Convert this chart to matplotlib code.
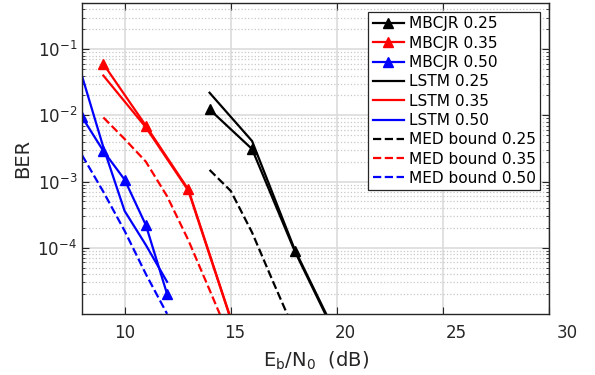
import matplotlib
matplotlib.use('Agg')
import matplotlib.pyplot as plt
import matplotlib.transforms as mtransforms
from matplotlib.ticker import LogLocator, NullFormatter

# Eb/N0 grids (dB)
snr_025 = [14, 16, 18, 20]
snr_035 = [9, 11, 13, 15]
snr_050 = [8, 9, 10, 11, 12]

# BER of the MBCJR detector
mbcjr_025 = [1.23e-2, 3.1e-3, 9.0e-5, 4.3e-6]
mbcjr_035 = [6.0e-2, 7.0e-3, 7.6e-4, 8.5e-6]
mbcjr_050 = [9.4e-3, 2.9e-3, 1.07e-3, 2.2e-4, 2.0e-5]

# BER of the LSTM detector
lstm_025 = [2.2e-2, 4.1e-3, 9.5e-5, 4.6e-6]
lstm_035 = [4.0e-2, 6.6e-3, 7.3e-4, 8.2e-6]
lstm_050 = [3.9e-2, 3.3e-3, 3.6e-4, 1.1e-4, 3.05e-5]

# MED bounds
med_snr_025 = [14, 15, 16, 17, 18]
med_025 = [1.5e-3, 7.2e-4, 1.7e-4, 3.0e-5, 5.5e-6]
med_snr_035 = [9, 10, 11, 12, 13, 14, 15]
med_035 = [9.3e-3, 4.4e-3, 2.0e-3, 6.0e-4, 1.3e-4, 2.3e-5, 4.0e-6]
med_snr_050 = [8, 9, 10, 11, 12]
med_050 = [2.5e-3, 7.0e-4, 1.8e-4, 4.0e-5, 1.0e-5]

x_ticks = [10, 15, 20, 25, 30]

plt.rcParams['font.family'] = 'DejaVu Sans'
fig = plt.figure(figsize=(5.95, 3.75), dpi=100)
ax = fig.add_axes([0.138, 0.163, 0.7855, 0.829])

lw = 1.6
ms = 6.5
ax.plot(snr_025, mbcjr_025, 'k-^', lw=lw, ms=ms, label='MBCJR 0.25')
ax.plot(snr_035, mbcjr_035, '-^', color='red', lw=lw, ms=ms, label='MBCJR 0.35')
ax.plot(snr_050, mbcjr_050, '-^', color='blue', lw=lw, ms=ms, label='MBCJR 0.50')
ax.plot(snr_025, lstm_025, 'k-', lw=lw, label='LSTM 0.25')
ax.plot(snr_035, lstm_035, '-', color='red', lw=lw, label='LSTM 0.35')
ax.plot(snr_050, lstm_050, '-', color='blue', lw=lw, label='LSTM 0.50')
ax.plot(med_snr_025, med_025, 'k--', lw=lw, label='MED bound 0.25')
ax.plot(med_snr_035, med_035, '--', color='red', lw=lw, label='MED bound 0.35')
ax.plot(med_snr_050, med_050, '--', color='blue', lw=lw, label='MED bound 0.50')

ax.set_yscale('log')
ax.set_xlim(8, 30)
ax.set_ylim(1e-5, 0.5)
ax.set_xticks(x_ticks)
ax.set_yticks([1e-4, 1e-3, 1e-2, 1e-1])
ax.yaxis.set_minor_locator(LogLocator(base=10, subs=range(2, 10), numticks=20))
ax.yaxis.set_minor_formatter(NullFormatter())

ax.grid(True, which='major', color='#dcdcdc', lw=1.2, ls='-')
ax.grid(True, which='minor', axis='y', color='#c8c8c8', lw=0.9, ls=':')
ax.set_axisbelow(True)

ax.tick_params(which='both', direction='in', top=True, right=True,
               labelsize=12, colors='#262626')
ax.tick_params(which='major', length=5)
ax.tick_params(axis='x', pad=7)
ax.tick_params(which='minor', length=2.5)
for s in ax.spines.values():
    s.set_color('#262626')
    s.set_linewidth(1.0)

# x tick labels drift slightly to the right of their gridlines
for val, lab in zip(x_ticks, ax.get_xticklabels()):
    shift = (val - 10) * 0.87 / 100
    lab.set_transform(lab.get_transform() +
                      mtransforms.ScaledTranslation(shift, 0, fig.dpi_scale_trans))

ax.set_xlabel(r'E$_\mathrm{b}$/N$_\mathrm{0}$  (dB)', fontsize=14, color='#262626',
              labelpad=6)
ax.set_ylabel('BER', fontsize=14, color='#262626', labelpad=4)

leg = ax.legend(loc='upper right', bbox_to_anchor=(0.98, 0.972), borderaxespad=0,
                fontsize=11.1, fancybox=False, edgecolor='#262626', framealpha=1,
                handlelength=2.0, handletextpad=0.3, labelspacing=0.28,
                borderpad=0.3)
leg.get_frame().set_linewidth(0.9)

fig.savefig('out.png', dpi=100)
